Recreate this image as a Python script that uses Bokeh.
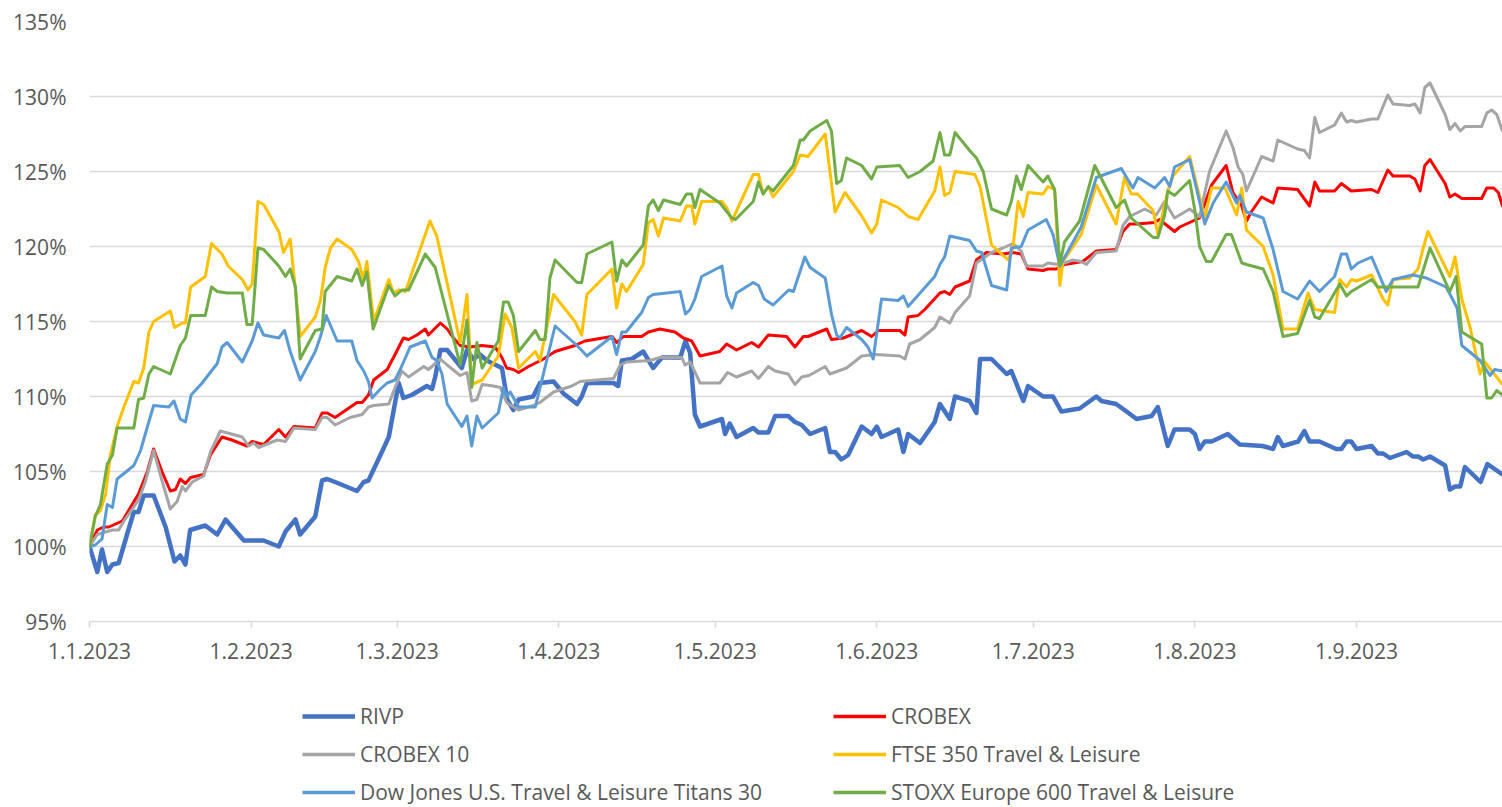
from bokeh.plotting import figure
from bokeh.layouts import column
from bokeh.models import Range1d, FixedTicker, PrintfTickFormatter, Legend, LegendItem
from bokeh.embed import file_html
from bokeh.resources import INLINE

# x = days since 1 Jan 2023, y = index value in % (1.1.2023 = 100%)
month_days = [0, 31, 59, 90, 120, 151, 181, 212, 243]
month_labels = ["1.1.2023", "1.2.2023", "1.3.2023", "1.4.2023", "1.5.2023",
                "1.6.2023", "1.7.2023", "1.8.2023", "1.9.2023"]
y_ticks = [95, 100, 105, 110, 115, 120, 125, 130, 135]

rivp = [(0,100.0),(1.5,98.3),(2.4,99.8),(3.4,98.3),(4.4,98.8),(5.6,98.9),(7.2,100.8),(8.5,102.3),(9.4,102.3),(10.4,103.4),(12.3,103.4),(14.6,101.3),(16.3,99.0),(17.4,99.4),(18.4,98.8),(19.3,101.1),(22.2,101.4),(24.5,100.8),(26.1,101.8),(29.6,100.4),(33.4,100.4),(36.3,100.0),(37.6,101.0),(39.5,101.8),(40.4,100.8),(43.3,102.0),(44.6,104.4),(45.6,104.5),(47.1,104.3),(51.3,103.7),(52.6,104.3),(53.5,104.4),(55.8,106.1),(57.4,107.3),(59.3,110.9),(60.2,109.9),(61.8,110.1),(64.7,110.7),(65.7,110.5),(66.3,111.3),(67.3,113.1),(68.6,113.1),(71.4,111.9),(72.4,113.1),(73.6,112.5),(74.9,112.8),(76.2,112.4),(79.1,111.9),(80.1,109.8),(81.3,109.1),(82.3,109.8),(85.1,110.0),(86.4,110.9),(89.0,111.0),(90.9,110.2),(93.5,109.5),(94.4,110.0),(95.4,110.9),(100.5,110.9),(101.4,110.7),(102.1,112.4),(104.0,112.5),(106.2,113.0),(108.1,111.9),(109.8,112.6),(113.3,112.6),(114.3,113.7),(115.2,112.9),(116.1,108.8),(117.1,108.0),(121.3,108.5),(121.9,107.5),(122.8,108.2),(124.1,107.3),(127.3,107.9),(128.3,107.6),(130.2,107.6),(131.5,108.7),(134.0,108.7),(135.3,108.3),(136.6,108.1),(138.2,107.5),(141.1,107.9),(142.0,106.3),(143.0,106.3),(144.2,105.8),(145.5,106.1),(148.1,108.0),(150.0,107.5),(151.0,108.0),(151.9,107.3),(155.1,107.8),(156.1,106.3),(157.0,107.5),(159.3,106.9),(162.1,108.3),(163.1,109.5),(165.0,108.5),(166.0,110.0),(168.8,109.7),(170.1,108.9),(170.8,112.5),(173.0,112.5),(175.9,111.5),(176.8,111.7),(179.1,109.7),(180.0,110.7),(182.9,110.0),(184.8,110.0),(186.4,109.0),(189.9,109.2),(193.1,110.0),(194.1,109.7),(196.9,109.5),(198.9,109.0),(200.8,108.5),(203.7,108.7),(204.9,109.3),(206.8,106.7),(208.1,107.8),(211.0,107.8),(212.0,107.5),(212.9,106.5),(213.9,107.0),(215.2,107.0),(218.3,107.5),(220.6,106.8),(225.0,106.7),(227.0,106.5),(227.9,107.3),(228.9,106.7),(231.8,107.0),(233.0,107.7),(234.0,107.0),(235.9,107.0),(239.1,106.5),(240.1,106.5),(241.1,107.0),(242.0,107.0),(243.0,106.5),(245.9,106.7),(247.1,106.2),(248.1,106.2),(249.4,105.9),(252.6,106.3),(253.8,106.0),(254.8,106.0),(255.8,105.8),(257.1,106.0),(260.0,105.4),(260.9,103.8),(261.9,104.0),(262.9,104.0),(263.8,105.3),(266.8,104.3),(268.1,105.5),(271.0,104.8)]

crobex = [(0,100.0),(1.5,101.1),(2.7,101.3),(3.7,101.3),(5.0,101.5),(6.3,101.7),(9.4,103.5),(11.1,105.0),(12.3,106.5),(13.9,105.0),(15.5,103.7),(16.5,103.8),(17.4,104.5),(18.4,104.2),(19.4,104.6),(21.9,104.8),(23.2,106.1),(25.4,107.3),(27.3,107.1),(30.2,106.7),(31.2,107.0),(33.4,106.8),(36.3,107.8),(37.6,107.3),(39.2,108.0),(43.3,107.9),(44.6,108.9),(45.6,108.9),(47.1,108.6),(51.3,109.6),(52.3,109.6),(53.5,110.1),(54.5,111.1),(57.1,111.8),(58.6,112.8),(60.2,113.9),(61.2,113.8),(62.8,114.1),(64.4,114.5),(65.0,114.1),(67.3,114.9),(68.6,114.5),(69.8,113.9),(71.1,113.4),(73.0,113.3),(75.3,113.4),(77.8,113.3),(79.1,112.6),(80.0,111.9),(81.3,111.8),(82.3,111.6),(84.2,112.0),(87.1,112.5),(89.3,113.0),(93.1,113.4),(95.0,113.7),(100.2,114.0),(101.1,113.6),(102.4,114.0),(105.9,114.0),(107.2,114.3),(109.4,114.5),(112.3,114.3),(113.9,113.9),(115.5,113.7),(117.1,112.7),(120.9,113.0),(122.2,113.5),(124.1,113.1),(127.0,113.6),(128.3,113.3),(130.2,114.1),(133.7,114.0),(135.3,113.3),(136.9,114.0),(137.8,114.0),(141.4,114.5),(142.3,113.8),(144.6,113.9),(148.1,114.4),(150.0,114.0),(151.3,114.4),(155.4,114.4),(156.4,114.1),(157.0,115.3),(158.9,115.4),(160.2,115.8),(163.1,116.9),(164.0,117.0),(165.0,116.8),(166.0,117.3),(168.8,117.7),(170.1,119.1),(172.0,119.6),(175.2,119.5),(177.1,119.6),(178.7,119.5),(180.0,118.5),(182.9,118.4),(183.8,118.5),(185.4,118.5),(187.0,118.8),(190.5,119.0),(193.1,119.7),(196.9,119.8),(198.2,121.0),(199.5,121.5),(200.8,121.5),(204.3,121.6),(205.2,121.8),(208.1,121.0),(209.1,121.3),(212.9,121.9),(215.2,124.1),(218.0,125.4),(219.3,123.6),(220.9,122.8),(221.9,121.7),(222.8,122.3),(224.8,123.3),(227.0,122.9),(227.9,123.9),(231.7,123.8),(234.0,122.7),(235.0,124.3),(235.9,123.7),(238.8,123.7),(240.1,124.2),(242.0,123.7),(245.9,123.8),(247.1,123.6),(249.0,125.1),(250.0,124.7),(253.2,124.7),(254.2,124.5),(255.2,123.7),(256.1,125.4),(257.1,125.8),(260.0,124.2),(260.9,123.3),(261.9,123.5),(263.2,123.2),(267.0,123.2),(268.0,123.9),(269.3,123.9),(270.2,123.6),(271.0,122.7)]

crobex10 = [(0,100.0),(1.5,100.8),(2.4,100.9),(3.4,101.0),(4.4,101.1),(5.6,101.1),(6.6,101.7),(9.4,103.1),(10.7,104.3),(12.3,106.4),(13.9,104.4),(15.5,102.5),(16.8,103.0),(17.8,104.0),(18.4,103.7),(19.7,104.3),(21.9,104.7),(23.2,106.3),(25.1,107.7),(29.3,107.3),(30.5,106.7),(31.5,106.9),(32.4,106.6),(36.0,107.1),(37.6,107.0),(39.2,107.9),(43.3,107.8),(44.6,108.6),(45.6,108.6),(47.1,108.1),(50.0,108.6),(52.3,108.8),(53.5,109.3),(54.5,109.4),(57.4,109.5),(58.6,110.6),(59.9,111.7),(61.2,111.3),(64.1,112.0),(65.0,111.8),(67.3,112.5),(68.6,112.1),(71.1,111.4),(72.4,111.6),(73.3,109.7),(74.3,109.8),(75.3,110.8),(77.5,110.7),(78.8,110.6),(80.0,109.6),(82.3,109.1),(85.1,109.4),(86.4,109.6),(89.0,110.3),(92.5,110.7),(94.1,111.0),(100.5,111.2),(101.8,112.1),(103.0,112.3),(107.5,112.4),(109.4,112.6),(113.6,112.6),(114.2,112.1),(115.2,112.3),(117.1,110.9),(120.9,110.9),(122.4,111.6),(124.1,111.3),(127.0,111.7),(128.3,111.2),(130.2,112.0),(131.5,111.7),(134.0,111.5),(135.3,110.8),(136.6,111.3),(138.0,111.4),(141.1,112.0),(142.0,111.5),(144.4,111.8),(145.2,111.9),(148.1,112.7),(150.9,112.8),(155.4,112.7),(156.4,112.5),(157.3,113.5),(159.3,113.8),(162.1,114.6),(163.1,115.3),(165.0,114.9),(166.0,115.6),(168.8,116.7),(170.1,118.9),(173.0,119.6),(175.2,119.9),(177.1,120.2),(178.7,119.7),(179.7,118.7),(182.9,118.7),(183.8,118.9),(185.7,118.8),(187.0,118.9),(188.6,119.1),(190.2,119.0),(191.2,118.8),(193.1,119.6),(196.9,119.7),(198.2,121.4),(199.5,122.0),(202.4,122.5),(204.6,122.1),(206.2,123.0),(208.1,121.9),(211.0,122.5),(212.9,122.0),(214.8,125.0),(218.0,127.7),(219.3,126.6),(220.3,125.3),(221.2,124.8),(221.9,123.7),(224.8,126.0),(227.0,125.7),(227.9,127.1),(231.7,126.5),(233.0,126.4),(234.0,125.9),(235.0,128.6),(235.9,127.6),(238.8,128.1),(240.1,128.9),(241.1,128.3),(242.0,128.4),(243.0,128.3),(245.9,128.5),(247.1,128.5),(249.0,130.1),(250.0,129.5),(253.2,129.4),(254.2,129.5),(255.2,128.9),(256.1,130.6),(257.1,130.9),(260.0,128.8),(260.9,127.8),(261.9,128.2),(262.9,127.7),(263.8,128.0),(267.0,128.0),(268.0,128.9),(268.9,129.1),(269.9,128.8),(271.0,127.7)]

ftse = [(0,100.0),(1.1,102.1),(2.1,102.4),(3.1,103.5),(4.0,106.1),(5.3,108.0),(6.6,109.3),(8.5,111.0),(9.4,110.9),(10.4,111.9),(11.4,114.3),(12.3,115.0),(15.5,115.7),(16.3,114.6),(17.8,114.9),(18.4,114.9),(19.4,117.3),(22.2,118.0),(23.4,120.2),(25.4,119.5),(26.6,118.7),(29.3,117.8),(30.4,117.1),(31.2,117.5),(32.3,123.0),(33.4,122.8),(36.3,121.0),(37.2,119.6),(38.5,120.5),(40.4,114.0),(43.3,115.3),(44.3,116.4),(45.2,118.6),(46.2,119.9),(47.5,120.5),(50.3,119.8),(51.6,119.0),(52.5,117.8),(53.2,119.0),(54.5,115.0),(57.4,117.8),(58.3,116.9),(59.3,117.1),(60.6,117.0),(65.3,121.7),(66.6,120.7),(71.1,113.6),(72.4,116.8),(73.3,110.8),(75.3,111.1),(78.4,112.7),(79.7,115.5),(81.0,114.6),(82.3,111.9),(85.5,113.0),(86.4,112.4),(89.0,116.8),(93.1,115.0),(94.4,114.1),(95.4,116.8),(100.2,118.5),(101.1,115.9),(102.1,117.5),(103.0,117.0),(106.2,118.8),(107.2,121.6),(108.1,121.8),(109.1,120.7),(110.1,121.9),(113.3,121.7),(114.5,122.7),(115.5,122.7),(116.1,121.5),(117.4,123.0),(121.3,123.0),(122.2,122.6),(123.2,121.7),(127.3,124.8),(128.3,124.8),(129.2,123.5),(130.2,124.0),(131.1,123.3),(135.0,125.0),(136.3,126.1),(137.8,126.0),(141.1,127.5),(143.0,122.3),(144.9,123.6),(148.0,122.1),(150.0,120.9),(151.0,121.5),(151.9,123.1),(155.1,122.6),(157.0,122.0),(158.9,121.8),(162.1,123.7),(163.1,125.3),(164.0,123.4),(165.0,123.6),(166.0,125.0),(169.8,124.8),(170.8,124.0),(173.0,120.1),(176.2,119.1),(177.1,119.9),(178.1,123.0),(179.1,122.0),(180.0,123.6),(182.9,123.5),(183.8,124.0),(185.1,123.8),(186.1,117.4),(186.7,119.0),(190.2,120.8),(193.1,124.1),(196.9,121.5),(198.5,124.6),(199.8,123.5),(201.0,123.5),(204.0,122.4),(204.9,120.8),(206.8,123.7),(207.8,124.7),(211.0,126.0),(212.0,124.6),(213.9,121.9),(215.2,123.9),(217.8,123.9),(220.0,122.1),(221.0,123.9),(221.9,121.1),(225.1,120.0),(227.0,118.1),(228.9,114.5),(231.7,114.5),(233.7,116.9),(235.0,115.8),(238.8,115.6),(239.8,117.8),(241.1,117.3),(242.0,117.8),(243.0,117.7),(245.9,118.1),(248.1,116.5),(249.0,116.1),(250.0,117.8),(253.2,117.9),(254.8,118.5),(255.8,119.9),(256.7,121.0),(260.9,118.0),(261.9,119.3),(263.2,116.5),(264.8,114.6),(266.7,111.5),(267.6,112.3),(269.2,111.6),(271.0,110.8)]

dowjones = [(0,100.0),(1.1,100.1),(2.4,100.5),(3.4,102.8),(4.4,102.6),(5.3,104.5),(8.5,105.4),(9.8,106.4),(10.7,107.5),(12.3,109.4),(15.2,109.3),(16.2,109.7),(17.4,108.5),(18.4,108.3),(19.5,110.1),(21.6,110.9),(24.5,112.2),(25.4,113.3),(26.4,113.6),(29.3,112.3),(31.2,113.7),(32.3,114.9),(33.4,114.1),(36.3,113.9),(37.4,114.4),(38.5,113.0),(40.4,111.1),(43.3,113.0),(44.3,114.0),(45.4,115.4),(47.5,113.7),(50.3,113.7),(51.3,112.4),(52.6,111.7),(53.5,111.0),(54.2,109.9),(55.8,110.5),(57.1,110.9),(58.6,111.1),(59.6,111.8),(61.5,113.3),(64.4,113.7),(65.7,112.6),(66.6,112.4),(67.6,111.5),(68.6,109.5),(71.4,108.0),(72.4,108.7),(73.3,106.7),(74.3,108.7),(75.3,107.9),(78.4,108.9),(79.4,110.6),(80.0,110.0),(80.7,110.3),(82.3,109.3),(85.5,109.3),(89.3,114.7),(93.5,113.4),(95.4,112.7),(100.2,114.0),(101.1,112.8),(102.1,114.3),(102.9,114.3),(105.9,115.6),(107.2,116.6),(108.1,116.8),(113.3,117.0),(114.3,115.5),(115.2,115.8),(116.1,116.5),(117.4,118.0),(121.3,118.7),(122.2,116.7),(123.2,115.9),(124.1,116.9),(127.3,117.6),(128.3,117.4),(129.4,116.5),(131.1,116.1),(134.1,117.1),(135.0,117.0),(137.2,119.3),(138.2,118.6),(141.1,117.9),(142.3,115.5),(143.3,114.1),(143.9,113.9),(145.2,114.6),(148.1,113.8),(149.3,113.3),(150.3,112.5),(151.9,116.5),(155.1,116.4),(156.1,116.7),(157.0,116.0),(159.3,116.9),(162.1,118.0),(163.1,118.8),(164.0,119.3),(165.0,120.7),(168.8,120.4),(170.1,119.7),(171.1,119.6),(173.0,117.4),(175.9,117.1),(176.8,119.9),(178.7,120.0),(180.0,121.1),(183.5,121.8),(184.8,120.8),(186.1,118.7),(190.2,121.3),(193.1,124.6),(197.9,125.2),(200.1,123.9),(201.1,124.6),(204.3,123.9),(206.2,124.6),(207.2,124.0),(208.1,125.3),(211.0,125.8),(213.9,121.5),(215.5,122.9),(218.0,124.3),(220.0,122.9),(220.6,123.4),(221.9,122.3),(225.1,121.9),(227.0,119.8),(228.9,117.0),(231.7,116.5),(234.0,117.7),(235.9,117.0),(238.8,118.0),(240.1,119.5),(241.1,119.5),(242.0,118.5),(243.3,118.9),(245.9,119.3),(248.7,117.0),(250.0,117.8),(253.8,118.1),(256.4,117.9),(260.2,117.3),(262.3,115.9),(263.2,113.4),(266.7,112.4),(268.6,111.4),(269.5,111.8),(271.0,111.7)]

stoxx = [(0,100.0),(1.1,102.0),(2.1,102.8),(3.4,105.5),(4.4,106.1),(5.3,107.9),(8.5,107.9),(9.4,109.8),(10.4,109.9),(11.4,111.5),(12.3,112.0),(15.5,111.5),(17.4,113.4),(18.4,113.9),(19.4,115.4),(22.2,115.4),(23.4,117.3),(24.5,117.0),(26.4,116.9),(29.3,116.9),(30.2,114.8),(31.2,114.8),(32.3,119.9),(33.4,119.8),(36.3,118.7),(37.6,118.0),(38.5,118.5),(39.5,117.3),(40.4,112.5),(43.3,114.4),(44.6,114.5),(45.2,117.0),(47.5,118.0),(50.3,117.7),(51.3,118.5),(52.3,117.4),(53.2,118.3),(54.4,114.5),(57.4,117.4),(58.6,116.7),(59.9,117.1),(61.2,117.1),(64.4,119.5),(66.3,118.6),(71.1,112.1),(72.4,115.1),(73.3,110.6),(74.3,113.6),(75.3,111.9),(78.4,113.7),(79.4,116.3),(80.3,116.3),(81.3,115.4),(82.3,113.0),(85.5,114.4),(86.4,113.8),(87.4,113.8),(88.3,117.9),(89.3,119.1),(93.5,117.6),(94.4,117.6),(95.4,119.5),(100.2,120.3),(101.1,117.7),(102.1,119.1),(103.0,118.7),(106.2,120.1),(107.2,122.7),(108.1,123.1),(109.1,122.4),(110.1,123.1),(113.3,122.8),(114.5,123.5),(115.5,123.5),(116.1,122.6),(117.1,123.8),(120.9,122.9),(123.2,121.9),(123.9,121.8),(127.3,123.0),(128.3,124.3),(129.2,123.5),(130.2,124.0),(131.1,123.7),(135.0,125.4),(136.3,127.1),(136.9,127.1),(138.2,127.7),(141.4,128.4),(142.3,127.7),(143.3,124.2),(144.2,124.4),(145.2,125.9),(148.1,125.4),(150.0,124.5),(151.0,125.3),(155.4,125.4),(157.0,124.6),(159.3,125.0),(161.8,125.7),(163.1,127.6),(164.0,126.1),(165.0,126.1),(166.0,127.6),(168.8,126.4),(170.1,125.9),(171.4,125.0),(173.0,122.5),(175.9,122.1),(176.8,123.0),(177.8,124.7),(178.7,123.8),(180.0,125.4),(182.9,124.3),(183.8,124.7),(185.1,123.8),(186.1,118.8),(187.0,120.3),(189.9,121.7),(192.8,125.4),(196.9,122.6),(198.5,123.1),(199.8,121.9),(204.0,120.6),(204.9,120.6),(206.2,122.1),(206.8,123.7),(208.1,123.4),(211.0,124.4),(212.0,122.4),(212.9,120.0),(214.2,119.0),(215.2,119.0),(218.0,120.8),(219.0,120.8),(221.0,118.9),(221.9,118.8),(225.1,118.5),(227.0,117.0),(228.9,114.0),(231.7,114.2),(234.0,116.4),(235.0,115.3),(235.9,115.2),(239.8,117.5),(241.1,116.7),(242.0,117.0),(245.9,117.8),(247.1,117.3),(254.8,117.3),(257.1,119.9),(260.9,117.0),(262.1,118.0),(263.2,114.3),(267.0,113.5),(268.0,109.9),(268.9,109.9),(269.9,110.4),(271.0,110.1)]

series = [
    ("RIVP", rivp, "#4472C4", 4.5),
    ("CROBEX", crobex, "#FF0000", 3),
    ("CROBEX 10", crobex10, "#A5A5A5", 3),
    ("FTSE 350 Travel & Leisure", ftse, "#FFC000", 3),
    ("Dow Jones U.S. Travel & Leisure Titans 30", dowjones, "#5B9BD5", 3),
    ("STOXX Europe 600 Travel & Leisure", stoxx, "#70AD47", 3),
]

FONT = "Open Sans"
TXT = "#595959"
GRID = "#D9D9D9"
W = 1502
FRAME_LEFT = 89

# ---------------- main chart ----------------
p = figure(width=W, height=680, output_backend="svg", toolbar_location=None,
           x_range=Range1d(0, 271), y_range=Range1d(95, 135),
           min_border_left=FRAME_LEFT, min_border_right=0, min_border_top=21,
           min_border_bottom=59)
p.outline_line_color = None
p.xgrid.grid_line_color = None
p.ygrid.grid_line_color = GRID
p.ygrid.grid_line_width = 1.5

p.yaxis.ticker = FixedTicker(ticks=y_ticks)
p.yaxis.formatter = PrintfTickFormatter(format="%d%%")
p.yaxis.axis_line_color = None
p.yaxis.major_tick_line_color = None
p.yaxis.minor_tick_line_color = None
p.yaxis.major_tick_out = 0
p.yaxis.major_tick_in = 0
p.yaxis.minor_tick_out = 0
p.yaxis.minor_tick_in = 0
p.yaxis.major_label_standoff = 23

p.xaxis.ticker = FixedTicker(ticks=month_days)
p.xaxis.major_label_overrides = dict(zip(month_days, month_labels))
p.xaxis.axis_line_color = GRID
p.xaxis.axis_line_width = 1.5
p.xaxis.major_tick_line_color = GRID
p.xaxis.major_tick_line_width = 1.5
p.xaxis.major_tick_out = 6
p.xaxis.major_tick_in = 0
p.xaxis.minor_tick_line_color = None
p.xaxis.major_label_standoff = 15

for ax in (p.xaxis, p.yaxis):
    ax.major_label_text_font = FONT
    ax.major_label_text_font_size = "21px"
    ax.major_label_text_color = TXT

for name, data, color, w in series:
    days = [d for d, _ in data]
    vals = [v for _, v in data]
    p.line(days, vals, line_color=color, line_width=w,
           line_join="round", line_cap="round")

# ---------------- legend strip (frame aligned with the chart frame) ----------------
lf = figure(width=W, height=127, output_backend="svg", toolbar_location=None,
            x_range=Range1d(0, 1), y_range=Range1d(0, 1),
            x_axis_type=None, y_axis_type=None,
            min_border_left=FRAME_LEFT, min_border_right=0, min_border_top=0,
            min_border_bottom=0)
lf.outline_line_color = None
lf.xgrid.grid_line_color = None
lf.ygrid.grid_line_color = None

# the same series, drawn outside this strip's visible range, serve as legend keys
proxies = {}
for name, data, color, w in series:
    days = [d for d, _ in data]
    vals = [v for _, v in data]
    proxies[name] = lf.line(days, vals, line_color=color,
                            line_width=4.5 if w > 4 else 3.5)

def make_legend(names, loc):
    lg = Legend(items=[LegendItem(label=n, renderers=[proxies[n]]) for n in names],
                location=loc, orientation="vertical")
    lg.glyph_width = 53
    lg.glyph_height = 24
    lg.label_height = 24
    lg.label_standoff = 5
    lg.spacing = 10
    lg.padding = 0
    lg.margin = 0
    lg.border_line_color = None
    lg.background_fill_alpha = 0
    lg.label_text_font = FONT
    lg.label_text_font_size = "21px"
    lg.label_text_color = TXT
    return lg

names = [s[0] for s in series]
lf.add_layout(make_legend(names[0::2], (302 - FRAME_LEFT, 1)))
lf.add_layout(make_legend(names[1::2], (833 - FRAME_LEFT, 1)))

layout = column(p, lf, spacing=0)
open("out.html", "w").write(file_html(layout, INLINE))
